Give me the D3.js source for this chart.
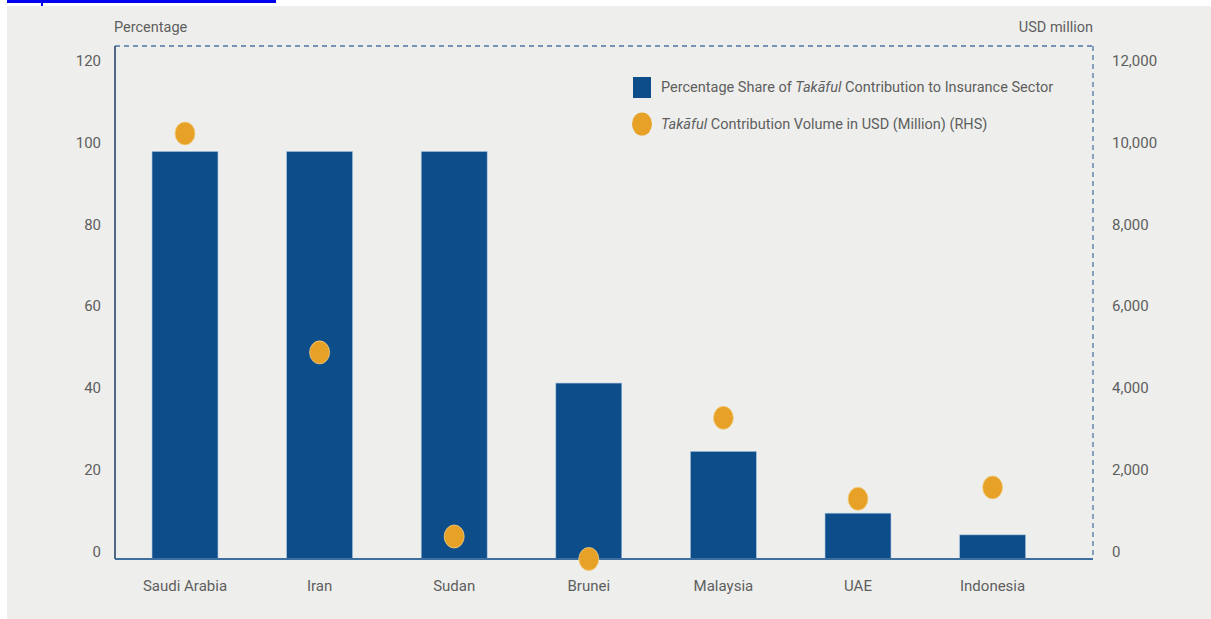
<!DOCTYPE html>
<html>
<head>
<meta charset="utf-8">
<script src="https://cdn.jsdelivr.net/npm/d3@7"></script>
<style>
  html, body { margin:0; padding:0; background:#fff; }
  svg { display:block; }
  text { font-family: Roboto, "Liberation Sans", sans-serif; fill:#5e5e5e; }
</style>
</head>
<body>
<script>
  // data
  const countries   = ["Saudi Arabia","Iran","Sudan","Brunei","Malaysia","UAE","Indonesia"];
  const shareValues = [99.6, 99.6, 99.6, 43, 26.3, 11.2, 5.9];        // % (left axis)
  const volumeValues = [10400, 5050, 550, 0, 3450, 1470, 1750];     // USD million (RHS)
  const leftTicks  = [0, 20, 40, 60, 80, 100, 120];
  const rightTicks = [0, 2000, 4000, 6000, 8000, 10000, 12000];

  const W = 1211, H = 619;
  const plot = {left:115, right:1093, top:46, bottom:559};

  const svg = d3.select("body").append("svg")
      .attr("width", W).attr("height", H);

  // page bits: the cropped link underline and the grey panel
  svg.append("rect").attr("x",7).attr("y",6).attr("width",W-7).attr("height",H-6).attr("fill","#eeefed");
  svg.append("rect").attr("x",7).attr("y",0).attr("width",269).attr("height",3).attr("fill","#0000ee");
  svg.append("rect").attr("x",41).attr("y",3).attr("width",2).attr("height",3).attr("fill","#0000ee");

  const x = d3.scaleBand()
      .domain(countries)
      .range([117.7, 1059.9])
      .paddingInner(0.51)
      .paddingOuter(0.255);

  const yL = d3.scaleLinear().domain([0,120]).range([plot.bottom, plot.bottom - 491]);
  const yR = d3.scaleLinear().domain([0,12000]).range([plot.bottom, plot.bottom - 491]);

  // frame: dashed top & right, solid left & bottom
  svg.append("line").attr("x1",plot.left).attr("x2",plot.right).attr("y1",plot.top).attr("y2",plot.top)
     .attr("stroke","#4f76a3").attr("stroke-width",1.3).attr("stroke-dasharray","5,4");
  svg.append("line").attr("x1",plot.right).attr("x2",plot.right).attr("y1",plot.top).attr("y2",plot.bottom)
     .attr("stroke","#4f76a3").attr("stroke-width",1.3).attr("stroke-dasharray","5,4");

  // bars
  svg.append("g").selectAll("rect")
    .data(countries)
    .join("rect")
      .attr("x", d => x(d))
      .attr("y", (d,i) => yL(shareValues[i]))
      .attr("width", x.bandwidth())
      .attr("height", (d,i) => plot.bottom - yL(shareValues[i]))
      .attr("fill", "#0d4d8a")
      .attr("stroke", "#a9c3df").attr("stroke-width", 0.6);

  svg.append("line").attr("x1",plot.left).attr("x2",plot.left).attr("y1",plot.top).attr("y2",plot.bottom)
     .attr("stroke","#1e3a5f").attr("stroke-width",1.5);
  svg.append("line").attr("x1",plot.left).attr("x2",plot.right).attr("y1",plot.bottom).attr("y2",plot.bottom)
     .attr("stroke","#3f6f9f").attr("stroke-width",2);

  // dots on the right axis scale
  svg.append("g").selectAll("ellipse")
    .data(countries)
    .join("ellipse")
      .attr("cx", d => x(d) + x.bandwidth()/2)
      .attr("cy", (d,i) => yR(volumeValues[i]))
      .attr("rx", 10).attr("ry", 11.5)
      .attr("fill", "#e6a126")
      .attr("stroke", "#f3cf86").attr("stroke-width", 0.8);

  // left axis labels
  svg.append("g").selectAll("text")
    .data(leftTicks)
    .join("text")
      .attr("x", 101).attr("y", d => yL(d) - 6)
      .attr("text-anchor","end").attr("dominant-baseline","middle")
      .attr("font-size", 15)
      .text(d => d);

  // right axis labels
  svg.append("g").selectAll("text")
    .data(rightTicks)
    .join("text")
      .attr("x", 1112).attr("y", d => yR(d) - 6)
      .attr("dominant-baseline","middle")
      .attr("font-size", 15)
      .text(d3.format(","));

  // category labels
  svg.append("g").selectAll("text")
    .data(countries)
    .join("text")
      .attr("x", d => x(d) + x.bandwidth()/2).attr("y", 587)
      .attr("text-anchor","middle").attr("dominant-baseline","middle")
      .attr("font-size", 15)
      .text(d => d);

  // axis titles
  svg.append("text").attr("x",114).attr("y",28).attr("dominant-baseline","middle")
     .attr("font-size",14.5).text("Percentage");
  svg.append("text").attr("x",1093).attr("y",28).attr("text-anchor","end").attr("dominant-baseline","middle")
     .attr("font-size",14.5).text("USD million");

  // legend
  const lg = svg.append("g");
  lg.append("rect").attr("x",633).attr("y",77).attr("width",18).attr("height",21).attr("fill","#0d4d8a");
  lg.append("ellipse").attr("cx",642).attr("cy",124).attr("rx",10).attr("ry",11.5).attr("fill","#e6a126");
  const t1 = lg.append("text").attr("x",661).attr("y",88).attr("dominant-baseline","middle").attr("font-size",14.5);
  t1.append("tspan").text("Percentage Share of ");
  t1.append("tspan").attr("font-style","italic").text("Takāful");
  t1.append("tspan").text(" Contribution to Insurance Sector");
  const t2 = lg.append("text").attr("x",661).attr("y",125).attr("dominant-baseline","middle").attr("font-size",14.5);
  t2.append("tspan").attr("font-style","italic").text("Takāful");
  t2.append("tspan").text(" Contribution Volume in USD (Million) (RHS)");
</script>
</body>
</html>
